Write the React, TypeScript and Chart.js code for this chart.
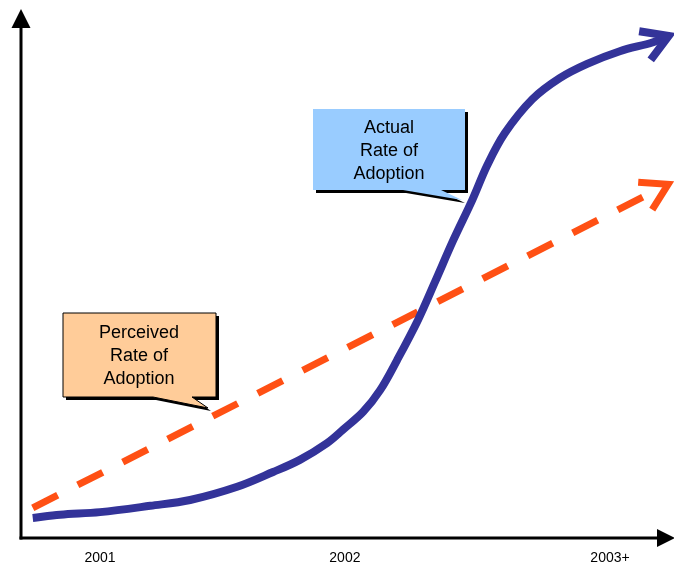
import React, { useEffect, useRef } from "react";
import { Chart, registerables } from "chart.js";

Chart.register(...registerables);

// ---- data (arbitrary time / adoption units, 0..100) ----
const timeX = [1.8, 6.0, 12.1, 19.8, 25.9, 33.1, 38.6, 42.7, 46.9, 49.3, 52.4, 55.0, 57.6, 60.8, 63.4, 66.2, 69.1, 71.4, 74.1, 78.3, 82.5, 86.7, 91.7, 96.8, 99.2];
const actualAdoption = [3.8, 4.4, 4.9, 6.1, 7.2, 9.7, 12.5, 14.8, 18.0, 20.5, 23.9, 28.0, 33.7, 41.3, 48.5, 56.4, 64.0, 70.6, 76.7, 83.1, 87.1, 89.8, 92.2, 93.9, 95.1];
const perceivedX = [1.8, 99.1];
const perceivedAdoption = [5.7, 67.0];
const tickLabels = ["2001", "2002", "2003+"];
const tickPositions = [12.1, 49.6, 90.2];
const actualLabel = ["Actual", "Rate of", "Adoption"];
const perceivedLabel = ["Perceived", "Rate of", "Adoption"];

const FONT = '"Liberation Sans", Arial, Helvetica, sans-serif';

function callout(
  ctx: CanvasRenderingContext2D,
  box: { l: number; t: number; r: number; b: number },
  ptr: { a: number; c: number; tx: number; ty: number },
  fill: string,
  border: boolean,
  lines: string[],
  cx: number,
  ys: number[]
) {
  const path = (dx: number, dy: number) => {
    ctx.beginPath();
    ctx.moveTo(box.l + dx, box.t + dy);
    ctx.lineTo(box.r + dx, box.t + dy);
    ctx.lineTo(box.r + dx, box.b + dy);
    ctx.lineTo(ptr.c + dx, box.b + dy);
    ctx.lineTo(ptr.tx + dx, ptr.ty + dy);
    ctx.lineTo(ptr.a + dx, box.b + dy);
    ctx.lineTo(box.l + dx, box.b + dy);
    ctx.closePath();
  };
  ctx.save();
  path(3, 3);
  ctx.fillStyle = "#000";
  ctx.fill();
  path(0, 0);
  ctx.fillStyle = fill;
  ctx.fill();
  if (border) {
    ctx.lineWidth = 1;
    ctx.strokeStyle = "#000";
    ctx.stroke();
  }
  ctx.fillStyle = "#000";
  ctx.font = `18px ${FONT}`;
  ctx.textAlign = "center";
  ctx.textBaseline = "middle";
  lines.forEach((s, i) => ctx.fillText(s, cx, ys[i]));
  ctx.restore();
}

const decorPlugin = {
  id: "decor",
  beforeDatasetsDraw(chart: any) {
    const { ctx, chartArea } = chart;
    const L = chartArea.left;
    const B = chartArea.bottom;
    ctx.save();
    ctx.strokeStyle = "#000";
    ctx.fillStyle = "#000";
    ctx.lineWidth = 3;
    ctx.lineCap = "butt";
    // y axis
    ctx.beginPath();
    ctx.moveTo(L, B + 1.5);
    ctx.lineTo(L, 27);
    ctx.stroke();
    ctx.beginPath();
    ctx.moveTo(L - 9.5, 28);
    ctx.lineTo(L + 9.5, 28);
    ctx.lineTo(L, 9);
    ctx.closePath();
    ctx.fill();
    // x axis
    ctx.beginPath();
    ctx.moveTo(L - 1.5, B);
    ctx.lineTo(658, B);
    ctx.stroke();
    ctx.beginPath();
    ctx.moveTo(657, B - 9);
    ctx.lineTo(657, B + 9);
    ctx.lineTo(675, B);
    ctx.closePath();
    ctx.fill();
    // tick labels
    const xs = chart.scales.x;
    ctx.font = `14px ${FONT}`;
    ctx.textAlign = "center";
    ctx.textBaseline = "alphabetic";
    tickLabels.forEach((t, i) => {
      ctx.fillText(t, xs.getPixelForValue(tickPositions[i]), 562);
    });
    ctx.restore();
  },
  afterDatasetsDraw(chart: any) {
    const { ctx } = chart;
    // arrowheads at line ends
    chart.data.datasets.forEach((ds: any, i: number) => {
      const pts = chart.getDatasetMeta(i).data;
      const p1 = pts[pts.length - 2];
      const p2 = pts[pts.length - 1];
      const ang = Math.atan2(p1.y - p2.y, p1.x - p2.x);
      const len = 30;
      const spread = (31 * Math.PI) / 180;
      ctx.save();
      ctx.setLineDash([]);
      ctx.strokeStyle = ds.borderColor;
      ctx.lineWidth = ds.borderWidth;
      ctx.lineCap = "butt";
      ctx.lineJoin = "miter";
      ctx.beginPath();
      ctx.moveTo(p2.x + len * Math.cos(ang - spread), p2.y + len * Math.sin(ang - spread));
      ctx.lineTo(p2.x, p2.y);
      ctx.lineTo(p2.x + len * Math.cos(ang + spread), p2.y + len * Math.sin(ang + spread));
      ctx.stroke();
      ctx.restore();
    });
    // callouts
    callout(
      ctx,
      { l: 313, t: 109, r: 465, b: 190 },
      { a: 403, c: 441, tx: 462, ty: 200 },
      "#99CCFF",
      false,
      actualLabel,
      389,
      [128, 151, 174]
    );
    callout(
      ctx,
      { l: 63, t: 313, r: 216, b: 397 },
      { a: 153, c: 192, tx: 208, ty: 408 },
      "#FFCC99",
      true,
      perceivedLabel,
      139,
      [333, 356, 379]
    );
  },
};

export default function App() {
  const ref = useRef<HTMLCanvasElement | null>(null);
  useEffect(() => {
    if (!ref.current) return;
    const chart = new Chart(ref.current, {
      type: "line",
      data: {
        datasets: [
          {
            label: "Actual Rate of Adoption",
            data: timeX.map((x, i) => ({ x, y: actualAdoption[i] })),
            borderColor: "#333399",
            borderWidth: 8,
            pointRadius: 0,
            tension: 0.35,
            borderCapStyle: "butt",
            borderJoinStyle: "round",
            fill: false,
            clip: false as any,
          },
          {
            label: "Perceived Rate of Adoption",
            data: perceivedX.map((x, i) => ({ x, y: perceivedAdoption[i] })),
            borderColor: "#FF5014",
            borderWidth: 7,
            borderDash: [28, 22.5],
            borderCapStyle: "butt",
            pointRadius: 0,
            fill: false,
            clip: false as any,
          },
        ],
      },
      options: {
        animation: false,
        responsive: false,
        events: [],
        layout: { padding: { left: 21, top: 10, right: 0, bottom: 25 } },
        plugins: { legend: { display: false }, tooltip: { enabled: false } },
        scales: {
          x: { type: "linear", display: false, min: 0, max: 100 },
          y: { type: "linear", display: false, min: 0, max: 100 },
        },
      },
      plugins: [decorPlugin],
    });
    return () => chart.destroy();
  }, []);
  return (
    <div style={{ position: "fixed", left: 0, top: 0, width: 674, height: 563, background: "#fff" }}>
      <canvas ref={ref} width={674} height={563} style={{ display: "block" }} />
    </div>
  );
}
